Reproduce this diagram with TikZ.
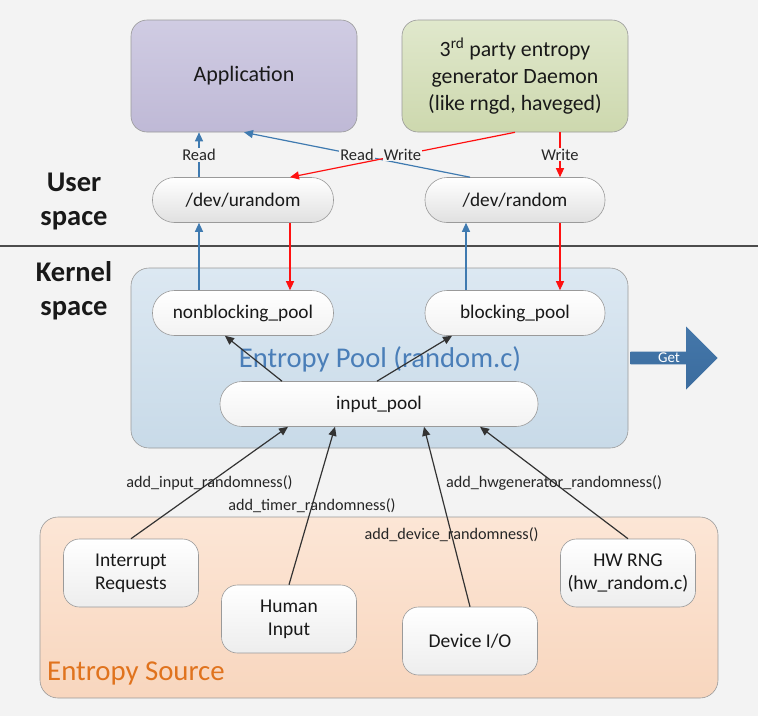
\documentclass[tikz,border=0pt]{standalone}
\usepackage{fontspec}
\setmainfont{Carlito}
\usetikzlibrary{arrows.meta,shapes.arrows,calc}
\definecolor{bgc}{HTML}{F3F3F3}
\definecolor{bluearr}{HTML}{3F7AB0}
\definecolor{redarr}{HTML}{FF1010}
\definecolor{darkarr}{HTML}{333333}
\definecolor{poolblue}{HTML}{4A7EB8}
\definecolor{srcorange}{HTML}{E0731E}
\definecolor{getblue}{HTML}{3B6C9E}
\definecolor{gettop}{HTML}{4477AA}
\definecolor{edge}{HTML}{9A9A9A}
\definecolor{apptop}{HTML}{D0CCE3}
\definecolor{appbot}{HTML}{BFB9D6}
\definecolor{daetop}{HTML}{E0E8CC}
\definecolor{daebot}{HTML}{CDD8AE}
\definecolor{pooltop}{HTML}{DCE8F2}
\definecolor{poolbot}{HTML}{C8DAE8}
\definecolor{srctop}{HTML}{FCE6D6}
\definecolor{srcbot}{HTML}{F8D6BE}
\tikzset{
  bigbox/.style={draw=edge, line width=0.6pt, rounded corners=16pt, inner sep=0pt, align=center, text=black!90},
  pill/.style={draw=edge, line width=0.6pt, rounded corners=22pt, inner sep=0pt, minimum height=45pt, font=\fontsize{19.3}{22}\selectfont, top color=white, bottom color=white!88!black, text=black!90},
  wpill/.style={pill, top color=white, bottom color=white!95!black},
  srcbox/.style={draw=edge, line width=0.6pt, rounded corners=16pt, inner sep=0pt, minimum width=135pt, minimum height=68pt, align=center, font=\fontsize{19.5}{23}\selectfont, top color=white, bottom color=white!93!black, text=black!90},
  barr/.style={bluearr, line width=1.2pt, -{Triangle[length=9pt,width=8pt]}},
  rarr/.style={redarr, line width=1.2pt, -{Triangle[length=9pt,width=8pt]}},
  darr/.style={darkarr, line width=1.2pt, -{Triangle[length=9pt,width=8pt]}},
  lbl/.style={font=\fontsize{16.5}{18}\selectfont, fill=bgc, inner sep=1pt, text=black!85},
  slbl/.style={font=\fontsize{16.2}{18}\selectfont, inner sep=0pt, text=black!85},
  spacetxt/.style={font=\bfseries\fontsize{28.5}{34}\selectfont, align=center, text=black!90},
}
\begin{document}
\begin{tikzpicture}[x=1pt,y=-1pt]
\fill[bgc] (0,0) rectangle (758,716);
\useasboundingbox (0,0) rectangle (758,716);
% separator
\draw[black!70, line width=1.5pt] (0,246) -- (758,246);
\node[spacetxt] (user) at (74,201) {User\\space};
\node[spacetxt] (kernel) at (74,291) {Kernel\\space};
% top boxes
\node[bigbox, minimum width=226pt, minimum height=112pt, top color=apptop, bottom color=appbot, font=\fontsize{22}{27}\selectfont] (app) at (244,76) {Application};
\node[bigbox, minimum width=226pt, minimum height=112pt, top color=daetop, bottom color=daebot, font=\fontsize{21.8}{27}\selectfont] (daemon) at (515,76) {3\textsuperscript{rd} party entropy\\generator Daemon\\(like rngd, haveged)};
% containers
\node[bigbox, minimum width=497pt, minimum height=180pt, rounded corners=18pt, top color=pooltop, bottom color=poolbot] (poolbox) at (379.5,358) {};
\node[bigbox, minimum width=678pt, minimum height=181pt, rounded corners=18pt, top color=srctop, bottom color=srcbot] (srcbox) at (379,607.5) {};
\node[anchor=center, text=poolblue, font=\fontsize{28.6}{31}\selectfont, inner sep=0pt] (pooltxt) at (380,359) {Entropy Pool (random.c)};
\node[anchor=west, text=srcorange, font=\fontsize{28.8}{31}\selectfont, inner sep=0pt] (srctxt) at (47,673) {Entropy Source};
% user space devices
\node[pill, minimum width=181pt] (urandom) at (243,200) {/dev/urandom};
\node[pill, minimum width=180pt] (random) at (515,200) {/dev/random};
% pools
\node[wpill, minimum width=181pt] (nbpool) at (243,313) {nonblocking\_pool};
\node[wpill, minimum width=180pt] (bpool) at (515,313) {blocking\_pool};
\node[wpill, minimum width=318pt] (ipool) at (379,404) {input\_pool};
% sources
\node[srcbox] (irq) at (131,573) {Interrupt\\Requests};
\node[srcbox] (human) at (289,619) {Human\\Input};
\node[srcbox] (devio) at (470,641) {Device I/O};
\node[srcbox] (hwrng) at (628,573) {HW RNG\\(hw\_random.c)};
% Get arrow
\node[single arrow, draw=none, shape border rotate=0, top color=gettop, bottom color=getblue, minimum height=87pt, minimum width=63pt, single arrow head extend=20.5pt, single arrow tip angle=90, inner sep=0pt, text=white, font=\fontsize{15}{16}\selectfont] (get) at (671,358) {\hspace*{-4pt}Get};
% user space arrows
\draw[barr] ([xshift=-44pt]urandom.north) -- node[lbl] {Read} ([xshift=-45pt]app.south);
\draw[barr] ([xshift=-45pt]random.north) -- node[lbl] {Read} (app.south);
\draw[rarr] (daemon.south) -- node[lbl] {Write} ([xshift=47pt]urandom.north);
\draw[rarr] ([xshift=45pt]daemon.south) -- node[lbl] {Write} ([xshift=45pt]random.north);
% kernel arrows
\draw[barr] ([xshift=-44pt]nbpool.north) -- ([xshift=-44pt]urandom.south);
\draw[rarr] ([xshift=47pt]urandom.south) -- ([xshift=47pt]nbpool.north);
\draw[barr] ([xshift=-49pt]bpool.north) -- ([xshift=-49pt]random.south);
\draw[rarr] ([xshift=45pt]random.south) -- ([xshift=45pt]bpool.north);
\draw[darr] ([xshift=-97pt]ipool.north) -- ([xshift=-18pt]nbpool.south);
\draw[darr] ([xshift=-2pt]ipool.north) -- ([xshift=-63pt]bpool.south);
% source arrows
\draw[darr] (irq.north) -- node[slbl, pos=0.5] {add\_input\_randomness()} ([xshift=-91pt]ipool.south);
\draw[darr] (human.north) -- node[slbl, pos=0.5] {add\_timer\_randomness()} ([xshift=-44pt]ipool.south);
\draw[darr] (devio.north) -- node[slbl, pos=0.4] {add\_device\_randomness()} ([xshift=45pt]ipool.south);
\draw[darr] (hwrng.north) -- node[slbl, pos=0.5] {add\_hwgenerator\_randomness()} ([xshift=101pt]ipool.south);
\end{tikzpicture}
\end{document}
